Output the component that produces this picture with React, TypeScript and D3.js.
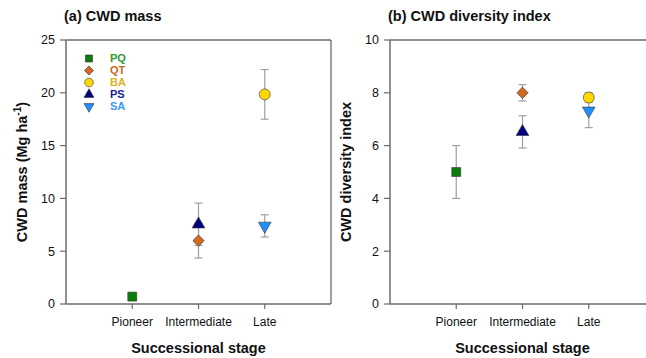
import React from "react";
import * as d3 from "d3";

const stages = ["Pioneer", "Intermediate", "Late"];
const species = ["PQ", "QT", "BA", "PS", "SA"];

// means and standard errors per species, one slot per stage (null = absent)
const massMean: Record<string, (number | null)[]> = {
  PQ: [0.7, null, null],
  QT: [null, 6.0, null],
  BA: [null, null, 19.85],
  PS: [null, 7.55, null],
  SA: [null, null, 7.4],
};
const massErr: Record<string, (number | null)[]> = {
  PQ: [0.1, null, null],
  QT: [null, 1.65, null],
  BA: [null, null, 2.35],
  PS: [null, 2.0, null],
  SA: [null, null, 1.05],
};
const divMean: Record<string, (number | null)[]> = {
  PQ: [5.0, null, null],
  QT: [null, 8.0, null],
  BA: [null, null, 7.82],
  PS: [null, 6.52, null],
  SA: [null, null, 7.32],
};
const divErr: Record<string, (number | null)[]> = {
  PQ: [1.0, null, null],
  QT: [null, 0.31, null],
  BA: [null, null, 0.18],
  PS: [null, 0.61, null],
  SA: [null, null, 0.64],
};

const massTicks = [0, 5, 10, 15, 20, 25];
const divTicks = [0, 2, 4, 6, 8, 10];

const fillColor: Record<string, string> = {
  PQ: "#0b7d0b",
  QT: "#d2691e",
  BA: "#ffd700",
  PS: "#000080",
  SA: "#1e90ff",
};
const textColor: Record<string, string> = {
  PQ: "#2e9b2e",
  QT: "#c8691f",
  BA: "#dcb21e",
  PS: "#1c1c94",
  SA: "#3a9bf5",
};

// marker shape + extra rotation per species
const marker = (sp: string, scale = 1) => {
  const sym = d3.symbol();
  if (sp === "PQ") return { d: sym.type(d3.symbolSquare).size(80 * scale)()!, rot: 0 };
  if (sp === "QT") return { d: sym.type(d3.symbolSquare).size(64 * scale)()!, rot: 45 };
  if (sp === "BA") return { d: sym.type(d3.symbolCircle).size(95 * scale)()!, rot: 0 };
  return { d: sym.type(d3.symbolTriangle).size(70 * scale)()!, rot: sp === "SA" ? 180 : 0 };
};

const FONT = "Arial, 'Liberation Sans', Helvetica, sans-serif";
const AXIS = "#6b6b6b";

const Panel = ({ x0, title, yLabel, mean, err, ticks, max, legend }: any) => {
  const top = 40;
  const bottom = 304;
  const x = d3.scaleLinear().domain([0, 4]).range([x0, x0 + 265]);
  const y = d3.scaleLinear().domain([0, max]).range([bottom, top]);
  const right = x(4);

  return (
    <g fontFamily={FONT}>
      <text x={x0 - 2} y={21} fontSize={14.5} fontWeight="bold" fill="#111">
        {title}
      </text>
      {/* frame */}
      <line x1={x0} x2={right} y1={top} y2={top} stroke={AXIS} strokeWidth={1.3} />
      <line x1={right} x2={right} y1={top} y2={bottom} stroke={AXIS} strokeWidth={1.3} />
      <line x1={x0} x2={x0} y1={top} y2={bottom} stroke={AXIS} strokeWidth={1.5} />
      <line x1={x0} x2={right} y1={bottom} y2={bottom} stroke={AXIS} strokeWidth={1.5} />
      {ticks.map((t: number) => (
        <g key={t}>
          <line x1={x0 - 6} x2={x0} y1={y(t)} y2={y(t)} stroke={AXIS} strokeWidth={1.2} />
          <text x={x0 - 11} y={y(t)} dy="0.35em" textAnchor="end" fontSize={12.5} fill="#111">
            {t}
          </text>
        </g>
      ))}
      {stages.map((s, i) => (
        <g key={s}>
          <line x1={x(i + 1)} x2={x(i + 1)} y1={bottom} y2={bottom + 5} stroke={AXIS} strokeWidth={1.2} />
          <text x={x(i + 1)} y={326} textAnchor="middle" fontSize={12} fill="#111">
            {s}
          </text>
        </g>
      ))}
      <text x={x(2)} y={353} textAnchor="middle" fontSize={14.5} fontWeight="bold" fill="#111">
        Successional stage
      </text>
      <text
        transform={`translate(${x0 - 39},${(top + bottom) / 2}) rotate(-90)`}
        textAnchor="middle"
        fontSize={14.5}
        fontWeight="bold"
        fill="#111"
      >
        {yLabel}
      </text>
      {/* error bars */}
      {species.map((sp) =>
        mean[sp].map((m: number | null, i: number) => {
          if (m == null) return null;
          const e = err[sp][i] as number;
          const cx = x(i + 1);
          return (
            <g key={sp + i} stroke="#a0a0a0" strokeWidth={1.2}>
              <line x1={cx} x2={cx} y1={y(m - e)} y2={y(m + e)} />
              <line x1={cx - 4} x2={cx + 4} y1={y(m - e)} y2={y(m - e)} />
              <line x1={cx - 4} x2={cx + 4} y1={y(m + e)} y2={y(m + e)} />
            </g>
          );
        })
      )}
      {/* markers */}
      {species.map((sp) =>
        mean[sp].map((m: number | null, i: number) => {
          if (m == null) return null;
          const mk = marker(sp);
          return (
            <path
              key={sp + "m" + i}
              d={mk.d}
              transform={`translate(${x(i + 1)},${y(m)}) rotate(${mk.rot})`}
              fill={fillColor[sp]}
              stroke="#333"
              strokeWidth={0.6}
            />
          );
        })
      )}
      {legend &&
        species.map((sp, k) => {
          const ly = 58.5 + k * 12;
          const mk = marker(sp, 0.62);
          return (
            <g key={"lg" + sp}>
              <path
                d={mk.d}
                transform={`translate(89,${ly}) rotate(${mk.rot})`}
                fill={fillColor[sp]}
                stroke="#333"
                strokeWidth={0.6}
              />
              <text x={110} y={ly} dy="0.36em" fontSize={11} fontWeight="bold" fill={textColor[sp]}>
                {sp}
              </text>
            </g>
          );
        })}
    </g>
  );
};

export default function App() {
  return (
    <svg
      width={646}
      height={358}
      style={{ position: "absolute", left: 0, top: 0, background: "#fff" }}
    >
      <rect width={646} height={358} fill="#fff" />
      <Panel
        x0={66}
        title="(a) CWD mass"
        yLabel={
          <>
            CWD mass (Mg ha
            <tspan dy={-6} fontSize={10}>-1</tspan>
            <tspan dy={6}>)</tspan>
          </>
        }
        mean={massMean}
        err={massErr}
        ticks={massTicks}
        max={25}
        legend
      />
      <Panel
        x0={390}
        title="(b) CWD diversity index"
        yLabel="CWD diversity index"
        mean={divMean}
        err={divErr}
        ticks={divTicks}
        max={10}
      />
    </svg>
  );
}
